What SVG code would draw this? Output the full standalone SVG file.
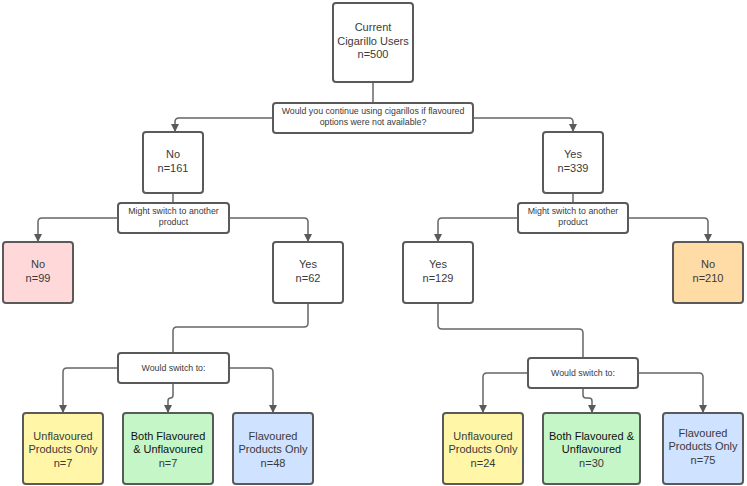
<svg xmlns="http://www.w3.org/2000/svg" width="747" height="486" viewBox="0 0 747 486">
<style>
.box{fill:#fff;stroke:#5a5a5a;stroke-width:2}
.pink{fill:#ffd9d9}.orange{fill:#ffdba6}.yellow{fill:#fff6a8}.green{fill:#c5f6c8}.blue{fill:#cfe2ff}
.t{font-family:"Liberation Sans",Arial,sans-serif;font-size:11px;fill:#3a3a3a;text-anchor:middle}
.s{font-family:"Liberation Sans",Arial,sans-serif;font-size:8.8px;fill:#3a3a3a;text-anchor:middle}
.k{fill:#111}
.c{fill:none;stroke:#666;stroke-width:1.5}
</style>
<defs>
<marker id="ah" markerUnits="userSpaceOnUse" markerWidth="8" markerHeight="8" refX="8" refY="4" orient="auto">
<path d="M0,0 L8,4 L0,8 z" fill="#5a5a5a"/>
</marker>
</defs>
<rect width="747" height="486" fill="#fff"/>
<g id="connectors">
<path class="c" d="M373,82 V103"/>
<path class="c" marker-end="url(#ah)" d="M273,118 H179 Q175,118 175,122 V132"/>
<path class="c" marker-end="url(#ah)" d="M473,118 H569 Q573,118 573,122 V132"/>
<path class="c" d="M173,193 V203"/>
<path class="c" marker-end="url(#ah)" d="M118,218 H42 Q38,218 38,222 V242"/>
<path class="c" marker-end="url(#ah)" d="M229,218 H304 Q308,218 308,222 V242"/>
<path class="c" d="M573,193 V203"/>
<path class="c" marker-end="url(#ah)" d="M518,218 H442 Q438,218 438,222 V242"/>
<path class="c" marker-end="url(#ah)" d="M628,218 H704 Q708,218 708,222 V242"/>
<path class="c" d="M308,303 V323 Q308,327 304,327 H177 Q173,327 173,331 V353"/>
<path class="c" marker-end="url(#ah)" d="M118,368 H67 Q63,368 63,372 V413"/>
<path class="c" marker-end="url(#ah)" d="M229,368 H269 Q273,368 273,372 V413"/>
<path class="c" marker-end="url(#ah)" d="M173,383 V395 Q173,398 170.5,398 Q168,398 168,401 V413"/>
<path class="c" d="M438,303 V325 Q438,329 442,329 H579 Q583,329 583,333 V358"/>
<path class="c" marker-end="url(#ah)" d="M528,373 H487 Q483,373 483,377 V413"/>
<path class="c" marker-end="url(#ah)" d="M638,373 H699 Q703,373 703,377 V413"/>
<path class="c" marker-end="url(#ah)" d="M583,388 V395 Q583,398 586,398 H589 Q592,398 592,401 V413"/>
</g>
<g id="root">
<rect class="box" x="333" y="3" width="80" height="79" rx="3"/>
<text class="t" x="373" y="31">Current</text>
<text class="t" x="373" y="44.5">Cigarillo Users</text>
<text class="t" x="373" y="58">n=500</text>
</g>
<g id="q1">
<rect class="box" x="273" y="103" width="200" height="30" rx="3"/>
<text class="s" x="373" y="114">Would you continue using cigarillos if flavoured</text>
<text class="s" x="373" y="124.5">options were not available?</text>
</g>
<g id="no161">
<rect class="box" x="143" y="132" width="60" height="61" rx="3"/>
<text class="t" x="173" y="158">No</text>
<text class="t" x="173" y="172">n=161</text>
</g>
<g id="yes339">
<rect class="box" x="543" y="132" width="60" height="61" rx="3"/>
<text class="t" x="573" y="158">Yes</text>
<text class="t" x="573" y="172">n=339</text>
</g>
<g id="q2left">
<rect class="box" x="118" y="203" width="111" height="30" rx="3"/>
<text class="s" x="173.5" y="214">Might switch to another</text>
<text class="s" x="173.5" y="225">product</text>
</g>
<g id="q2right">
<rect class="box" x="518" y="203" width="110" height="30" rx="3"/>
<text class="s" x="573" y="214">Might switch to another</text>
<text class="s" x="573" y="225">product</text>
</g>
<g id="no99">
<rect class="box pink" x="3" y="242" width="70" height="61" rx="3"/>
<text class="t" x="38" y="268">No</text>
<text class="t" x="38" y="282">n=99</text>
</g>
<g id="yes62">
<rect class="box" x="273" y="242" width="70" height="61" rx="3"/>
<text class="t" x="308" y="268">Yes</text>
<text class="t" x="308" y="282">n=62</text>
</g>
<g id="yes129">
<rect class="box" x="403" y="242" width="70" height="61" rx="3"/>
<text class="t" x="438" y="268">Yes</text>
<text class="t" x="438" y="282">n=129</text>
</g>
<g id="no210">
<rect class="box orange" x="673" y="242" width="70" height="61" rx="3"/>
<text class="t" x="708" y="268">No</text>
<text class="t" x="708" y="282">n=210</text>
</g>
<g id="q3left">
<rect class="box" x="118" y="353" width="111" height="30" rx="3"/>
<text class="s" x="173.5" y="371">Would switch to:</text>
</g>
<g id="q3right">
<rect class="box" x="528" y="358" width="110" height="30" rx="3"/>
<text class="s" x="583" y="376">Would switch to:</text>
</g>
<g id="unflav7">
<rect class="box yellow" x="23" y="413" width="80" height="71" rx="3"/>
<text class="t" x="63" y="440">Unflavoured</text>
<text class="t" x="63" y="453">Products Only</text>
<text class="t" x="63" y="467">n=7</text>
</g>
<g id="both7">
<rect class="box green" x="123" y="413" width="90" height="71" rx="3"/>
<text class="t k" x="168" y="440">Both Flavoured</text>
<text class="t k" x="168" y="453">&amp; Unflavoured</text>
<text class="t" x="168" y="467">n=7</text>
</g>
<g id="flav48">
<rect class="box blue" x="233" y="413" width="80" height="71" rx="3"/>
<text class="t" x="273" y="440">Flavoured</text>
<text class="t" x="273" y="453">Products Only</text>
<text class="t" x="273" y="467">n=48</text>
</g>
<g id="unflav24">
<rect class="box yellow" x="443" y="413" width="80" height="71" rx="3"/>
<text class="t" x="483" y="440">Unflavoured</text>
<text class="t" x="483" y="453">Products Only</text>
<text class="t" x="483" y="467">n=24</text>
</g>
<g id="both30">
<rect class="box green" x="543" y="413" width="97" height="71" rx="3"/>
<text class="t k" x="591.5" y="440">Both Flavoured &amp;</text>
<text class="t k" x="591.5" y="453">Unflavoured</text>
<text class="t" x="591.5" y="467">n=30</text>
</g>
<g id="flav75">
<rect class="box blue" x="663" y="413" width="80" height="71" rx="3"/>
<text class="t" x="703" y="437">Flavoured</text>
<text class="t" x="703" y="450">Products Only</text>
<text class="t" x="703" y="464">n=75</text>
</g>
</svg>
